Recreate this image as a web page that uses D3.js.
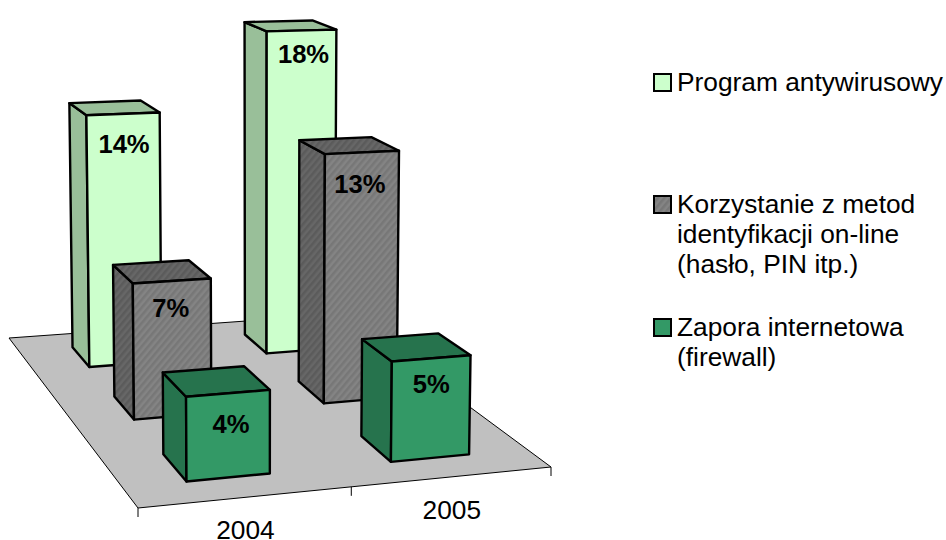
<!DOCTYPE html>
<html>
<head>
<meta charset="utf-8">
<script src="https://cdn.jsdelivr.net/npm/d3@7"></script>
<style>
body { margin: 0; background: #fff; }
text { font-family: "Liberation Sans", Arial, sans-serif; }
</style>
</head>
<body>
<div id="chart"></div>
<script>
const years = ["2004", "2005"];
const antivirusValues = [14, 18.4];
const identityValues = [7, 13.2];
const firewallValues = [4, 4.9];
const legendLines = [
    ["Program antywirusowy"],
    ["Korzystanie z metod", "identyfikacji on-line", "(hasło, PIN itp.)"],
    ["Zapora internetowa", "(firewall)"]
];
const seriesValues = [antivirusValues, identityValues, firewallValues];

const svg = d3.select("#chart")
    .append("svg")
    .attr("width", 946)
    .attr("height", 540);

const defs = svg.append("defs");

function stripes(id, base, line) {
    const p = defs.append("pattern")
        .attr("id", id)
        .attr("width", 5)
        .attr("height", 5)
        .attr("patternUnits", "userSpaceOnUse")
        .attr("patternTransform", "rotate(40)");
    p.append("rect").attr("width", 5).attr("height", 5).attr("fill", base);
    p.append("rect").attr("width", 2.5).attr("height", 5).attr("fill", line);
}
stripes("greyFront", "#848484", "#777777");
stripes("greySide", "#676767", "#5b5b5b");

const colors = [
    { front: "#ccffcc", side: "#99bf99" },
    { front: "url(#greyFront)", side: "url(#greySide)" },
    { front: "#339966", side: "#26734d" }
];

// floor corners on screen: front left, front right, back right, back left
const floor = [[138, 508], [551, 467], [344, 314], [9, 338]];

// small hand nudges of the value labels, per series and year
const labelDx = [[0, 1], [-2, -3], [2, -1]];
const labelDy = [[0, -6], [-3, 2], [1, -4]];

// projective map of the unit square onto the floor
const dx1 = floor[1][0] - floor[2][0], dx2 = floor[3][0] - floor[2][0];
const dy1 = floor[1][1] - floor[2][1], dy2 = floor[3][1] - floor[2][1];
const sx = floor[0][0] - floor[1][0] + floor[2][0] - floor[3][0];
const sy = floor[0][1] - floor[1][1] + floor[2][1] - floor[3][1];
const den = dx1 * dy2 - dx2 * dy1;
const g = (sx * dy2 - dx2 * sy) / den;
const h = (dx1 * sy - sx * dy1) / den;

const xBand = d3.scaleBand().domain(years).range([0, 1]).paddingInner(0.6).paddingOuter(0.3);
const zBand = d3.scaleBand().domain([2, 1, 0]).range([0, 1]).paddingInner(0.58).paddingOuter(0.29);
const yScale = d3.scaleLinear().domain([0, 18]).range([0, 395]);

function project(u, v, value) {
    const w = g * u + h * v + 1;
    const x = ((floor[1][0] - floor[0][0] + g * floor[1][0]) * u + (floor[3][0] - floor[0][0] + h * floor[3][0]) * v + floor[0][0]) / w;
    const y = ((floor[1][1] - floor[0][1] + g * floor[1][1]) * u + (floor[3][1] - floor[0][1] + h * floor[3][1]) * v + floor[0][1]) / w;
    const rise = yScale(value) / w;
    // verticals lean apart slightly going up
    return [x + (x - 260) * rise * 0.000069, y - rise];
}

const line = d3.line();

svg.append("path")
    .attr("d", line(floor) + "Z")
    .attr("fill", "#c0c0c0")
    .attr("stroke", "#000")
    .attr("stroke-width", 1);

// tick marks under the front edge
[0, 0.5, 1].forEach(function(u) {
    const p = project(u, 0, 0);
    svg.append("line")
        .attr("x1", p[0]).attr("y1", p[1])
        .attr("x2", p[0]).attr("y2", p[1] + 9)
        .attr("stroke", "#000");
});

years.forEach(function(year, i) {
    const p = project(xBand(year) + xBand.bandwidth() / 2, 0, 0);
    svg.append("text")
        .attr("x", p[0] - 1)
        .attr("y", p[1] + 42)
        .attr("text-anchor", "middle")
        .attr("font-size", 26.3)
        .text(year);
});

// back row first so the nearer bars cover it
seriesValues.forEach(function(values, s) {
    years.forEach(function(year, i) {
        const v = values[i];
        const u0 = xBand(year), u1 = u0 + xBand.bandwidth();
        const z0 = zBand(s), z1 = z0 + zBand.bandwidth();
        const bar = svg.append("g")
            .attr("stroke", "#000")
            .attr("stroke-width", 2.4)
            .attr("stroke-linejoin", "round");
        bar.append("path")
            .attr("d", line([project(u0, z0, 0), project(u0, z1, 0), project(u0, z1, v), project(u0, z0, v)]) + "Z")
            .attr("fill", colors[s].side);
        bar.append("path")
            .attr("d", line([project(u0, z0, v), project(u1, z0, v), project(u1, z1, v), project(u0, z1, v)]) + "Z")
            .attr("fill", colors[s].side);
        bar.append("path")
            .attr("d", line([project(u0, z0, 0), project(u1, z0, 0), project(u1, z0, v), project(u0, z0, v)]) + "Z")
            .attr("fill", colors[s].front);
        const a = project(u0, z0, v), b = project(u1, z0, v);
        svg.append("text")
            .attr("x", (a[0] + b[0]) / 2 + 1 + labelDx[s][i])
            .attr("y", (a[1] + b[1]) / 2 + 39 + labelDy[s][i])
            .attr("text-anchor", "middle")
            .attr("font-size", 25.6)
            .attr("font-weight", "bold")
            .text(d3.format(".0f")(v) + "%");
    });
});

// legend
const legendY = d3.scaleOrdinal().domain([0, 1, 2]).range([91, 213, 336]);
legendLines.forEach(function(lines, s) {
    svg.append("rect")
        .attr("x", 654)
        .attr("y", legendY(s) - 17)
        .attr("width", 17)
        .attr("height", 17)
        .attr("fill", colors[s].front)
        .attr("stroke", "#000")
        .attr("stroke-width", 2);
    lines.forEach(function(t, j) {
        svg.append("text")
            .attr("x", 677)
            .attr("y", legendY(s) + j * 30)
            .attr("font-size", 26.3)
            .text(t);
    });
});
</script>
</body>
</html>
